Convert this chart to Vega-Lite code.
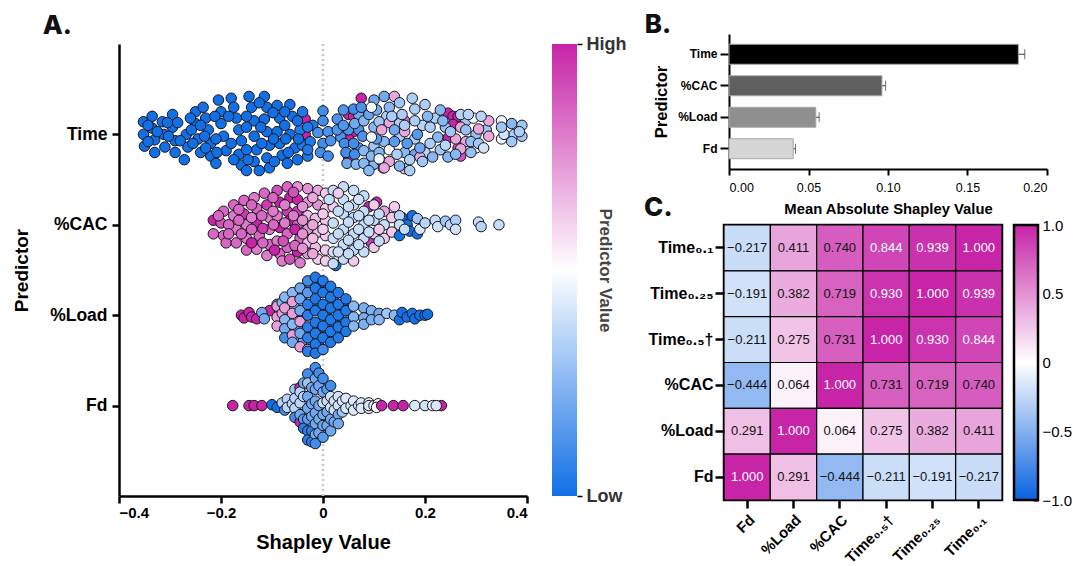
{"$schema":"https://vega.github.io/schema/vega-lite/v6.json","background":"white","padding":{"left":12,"top":12,"right":0,"bottom":0},"config":{"view":{"stroke":null},"font":"Liberation Sans","title":{"font":"Inter","fontWeight":800,"fontSize":26,"anchor":"start","color":"#111"},"axis":{"grid":false,"domainColor":"#000","tickColor":"#000","labelColor":"#000","titleColor":"#000","labelFont":"Liberation Sans","titleFont":"Liberation Sans"}},
"spacing":16,
"hconcat":[{"spacing":22,"hconcat":[
{"width":408,"height":462,"title":{"text":"A.","dx":30,"dy":5,"offset":0},
"layer":[
{"data":{"values":[{"z":0,"a":0,"b":5}]},"mark":{"type":"rule","color":"#c8c8c8","strokeWidth":2.5,"strokeDash":[2,3]},"encoding":{"x":{"field":"z","type":"quantitative","scale":{"domain":[-0.4,0.4]}},"y":{"field":"a","type":"quantitative","scale":{"domain":[0,5],"range":[462,10]}},"y2":{"field":"b"}}},
{"data":{"values":[
{"x":-0.352,"y":4.14,"c":0},{"x":-0.352,"y":4.0,"c":0},{"x":-0.35,"y":3.87,"c":0},{"x":-0.335,"y":4.2,"c":0},{"x":-0.335,"y":4.07,"c":0},{"x":-0.33,"y":3.94,"c":0},{"x":-0.33,"y":3.8,"c":0},{"x":-0.315,"y":4.14,"c":0},{"x":-0.312,"y":4.0,"c":0},{"x":-0.31,"y":3.86,"c":0},{"x":-0.295,"y":4.22,"c":0},{"x":-0.295,"y":4.08,"c":0},{"x":-0.29,"y":3.93,"c":0},{"x":-0.29,"y":3.8,"c":0},{"x":-0.272,"y":3.72,"c":0},{"x":-0.268,"y":4.0,"c":0},{"x":-0.265,"y":3.86,"c":0},{"x":-0.25,"y":4.25,"c":0},{"x":-0.25,"y":4.12,"c":0},{"x":-0.245,"y":3.95,"c":0},{"x":-0.24,"y":3.8,"c":0},{"x":-0.235,"y":4.3,"c":0},{"x":-0.23,"y":4.18,"c":0},{"x":-0.225,"y":4.05,"c":0},{"x":-0.22,"y":3.9,"c":0},{"x":-0.22,"y":3.76,"c":0},{"x":-0.21,"y":3.68,"c":0},{"x":-0.205,"y":4.38,"c":0},{"x":-0.2,"y":4.25,"c":0},{"x":-0.2,"y":4.12,"c":0},{"x":-0.195,"y":3.98,"c":0},{"x":-0.19,"y":3.82,"c":0},{"x":-0.18,"y":4.4,"c":0},{"x":-0.175,"y":4.3,"c":0},{"x":-0.17,"y":4.18,"c":0},{"x":-0.165,"y":4.05,"c":0},{"x":-0.16,"y":3.93,"c":0},{"x":-0.165,"y":3.78,"c":0},{"x":-0.16,"y":3.66,"c":0},{"x":-0.15,"y":3.6,"c":0},{"x":-0.145,"y":4.42,"c":0},{"x":-0.14,"y":4.3,"c":0},{"x":-0.135,"y":4.15,"c":0},{"x":-0.135,"y":3.98,"c":0},{"x":-0.13,"y":3.83,"c":0},{"x":-0.135,"y":3.7,"c":0},{"x":-0.125,"y":3.6,"c":0},{"x":-0.115,"y":4.42,"c":0},{"x":-0.11,"y":4.3,"c":0},{"x":-0.115,"y":4.17,"c":0},{"x":-0.11,"y":4.03,"c":0},{"x":-0.105,"y":3.88,"c":0},{"x":-0.11,"y":3.74,"c":0},{"x":-0.105,"y":3.63,"c":0},{"x":-0.09,"y":4.32,"c":0},{"x":-0.085,"y":4.18,"c":0},{"x":-0.09,"y":4.03,"c":0},{"x":-0.085,"y":3.9,"c":0},{"x":-0.08,"y":3.77,"c":0},{"x":-0.07,"y":3.68,"c":0},{"x":-0.065,"y":4.33,"c":0},{"x":-0.06,"y":4.2,"c":0},{"x":-0.065,"y":4.0,"c":0},{"x":-0.055,"y":3.85,"c":0},{"x":-0.05,"y":3.72,"c":0},{"x":-0.035,"y":4.17,"c":1},{"x":-0.035,"y":4.0,"c":1},{"x":-0.04,"y":4.25,"c":0.03},{"x":-0.045,"y":4.05,"c":0.03},{"x":-0.04,"y":3.88,"c":0.03},{"x":-0.03,"y":3.76,"c":0.03},{"x":-0.02,"y":4.1,"c":0.03},{"x":-0.025,"y":3.92,"c":0.03},{"x":0.0,"y":4.26,"c":0.1},{"x":0.0,"y":4.15,"c":0.1},{"x":-0.01,"y":4.02,"c":0.12},{"x":0.01,"y":4.03,"c":0.12},{"x":0.0,"y":3.9,"c":0.1},{"x":-0.005,"y":3.8,"c":0.1},{"x":0.01,"y":3.76,"c":0.1},{"x":0.015,"y":3.93,"c":0.12},
{"x":-0.343,"y":4.1,"c":0},{"x":-0.343,"y":3.92,"c":0},{"x":-0.325,"y":4.03,"c":0},{"x":-0.305,"y":4.13,"c":0},{"x":-0.303,"y":3.98,"c":0},{"x":-0.285,"y":4.13,"c":0},{"x":-0.28,"y":3.93,"c":0},{"x":-0.26,"y":4.18,"c":0},{"x":-0.258,"y":4.05,"c":0},{"x":-0.255,"y":3.9,"c":0},{"x":-0.24,"y":4.1,"c":0},{"x":-0.232,"y":3.98,"c":0},{"x":-0.23,"y":3.85,"c":0},{"x":-0.212,"y":4.2,"c":0},{"x":-0.21,"y":3.95,"c":0},{"x":-0.208,"y":3.8,"c":0},{"x":-0.185,"y":4.2,"c":0},{"x":-0.18,"y":3.9,"c":0},{"x":-0.175,"y":3.72,"c":0},{"x":-0.15,"y":4.2,"c":0},{"x":-0.15,"y":4.08,"c":0},{"x":-0.15,"y":3.83,"c":0},{"x":-0.147,"y":3.72,"c":0},{"x":-0.125,"y":4.35,"c":0},{"x":-0.122,"y":4.08,"c":0},{"x":-0.12,"y":3.9,"c":0},{"x":-0.098,"y":4.24,"c":0},{"x":-0.097,"y":3.95,"c":0},{"x":-0.095,"y":3.7,"c":0},{"x":-0.075,"y":4.25,"c":0},{"x":-0.075,"y":4.1,"c":0},{"x":-0.073,"y":3.95,"c":0},{"x":-0.068,"y":3.8,"c":0},{"x":-0.05,"y":4.15,"c":0},{"x":-0.048,"y":3.95,"c":0},{"x":-0.03,"y":4.08,"c":0.03},{"x":-0.03,"y":3.83,"c":0.03},
{"x":0.05,"y":4.22,"c":1},{"x":0.06,"y":4.2,"c":1},{"x":0.06,"y":4.03,"c":1},{"x":0.05,"y":3.95,"c":1},{"x":0.05,"y":3.75,"c":1},{"x":0.075,"y":4.4,"c":1},{"x":0.245,"y":4.235,"c":1},{"x":0.255,"y":4.2,"c":1},{"x":0.265,"y":4.2,"c":1},{"x":0.255,"y":4.11,"c":1},{"x":0.245,"y":3.96,"c":1},{"x":0.265,"y":3.85,"c":0.9},{"x":0.27,"y":3.76,"c":0.9},{"x":0.118,"y":3.63,"c":0.9},{"x":0.16,"y":4.15,"c":0.85},
{"x":0.035,"y":3.97,"c":0.13},{"x":0.05,"y":4.05,"c":0.13},{"x":0.07,"y":4.05,"c":0.12},{"x":0.07,"y":4.22,"c":0.2},{"x":0.07,"y":3.85,"c":0.12},{"x":0.1,"y":4.08,"c":0.25},{"x":0.1,"y":3.87,"c":0.3},{"x":0.1,"y":3.67,"c":0.25},{"x":0.12,"y":3.92,"c":0.25},{"x":0.125,"y":4.2,"c":0.33},{"x":0.15,"y":3.98,"c":0.33},{"x":0.15,"y":4.12,"c":0.33},{"x":0.16,"y":3.8,"c":0.25},{"x":0.18,"y":3.95,"c":0.33},{"x":0.18,"y":3.78,"c":0.18},{"x":0.195,"y":4.1,"c":0.35},{"x":0.2,"y":3.8,"c":0.35},{"x":0.22,"y":4.18,"c":0.33},{"x":0.225,"y":3.97,"c":0.25},{"x":0.23,"y":3.83,"c":0.3},{"x":0.24,"y":4.08,"c":0.28},{"x":0.28,"y":3.92,"c":0.7},{"x":0.3,"y":4.0,"c":0.28},{"x":0.32,"y":4.05,"c":0.3},{"x":0.28,"y":4.15,"c":0.3},
{"x":0.028,"y":4.17,"c":0.13},{"x":0.028,"y":4.05,"c":0.13},{"x":0.04,"y":4.27,"c":0.13},{"x":0.04,"y":4.1,"c":0.13},{"x":0.042,"y":3.9,"c":0.1},{"x":0.045,"y":3.8,"c":0.1},{"x":0.047,"y":3.68,"c":0.2},{"x":0.06,"y":4.28,"c":0.1},{"x":0.062,"y":4.12,"c":0.2},{"x":0.06,"y":3.9,"c":0.1},{"x":0.062,"y":3.78,"c":0.1},{"x":0.065,"y":3.67,"c":0.25},{"x":0.075,"y":4.3,"c":0.12},{"x":0.08,"y":4.15,"c":0.25},{"x":0.078,"y":3.98,"c":0.12},{"x":0.08,"y":3.82,"c":0.25},{"x":0.08,"y":3.68,"c":0.25},{"x":0.09,"y":4.22,"c":0.18},{"x":0.095,"y":3.76,"c":0.25},{"x":0.09,"y":3.6,"c":0.25},{"x":0.1,"y":4.38,"c":0.2},{"x":0.105,"y":4.27,"c":0.2},{"x":0.11,"y":4.14,"c":0.3},{"x":0.105,"y":3.95,"c":0.15},{"x":0.11,"y":3.8,"c":0.25},{"x":0.115,"y":3.7,"c":0.15},{"x":0.12,"y":4.42,"c":0.2},{"x":0.13,"y":4.3,"c":0.25},
{"x":0.095,"y":4.3,"c":0.48},{"x":0.095,"y":3.97,"c":0.48},{"x":0.115,"y":4.05,"c":0.7},{"x":0.13,"y":4.13,"c":0.7},{"x":0.13,"y":3.7,"c":0.7},{"x":0.12,"y":3.63,"c":0.7},{"x":0.14,"y":4.42,"c":0.7},{"x":0.16,"y":4.03,"c":0.7},{"x":0.19,"y":3.75,"c":0.7},{"x":0.27,"y":4.08,"c":0.7},{"x":0.26,"y":3.95,"c":0.7},{"x":0.27,"y":3.84,"c":0.7},{"x":0.325,"y":4.15,"c":0.7},{"x":0.325,"y":3.98,"c":0.7},{"x":0.305,"y":4.06,"c":0.7},{"x":0.16,"y":3.62,"c":0.65},{"x":0.13,"y":3.83,"c":0.48},{"x":0.11,"y":3.73,"c":0.48},{"x":0.295,"y":4.18,"c":0.48},{"x":0.3,"y":3.85,"c":0.48},{"x":0.35,"y":4.15,"c":0.48},{"x":0.35,"y":3.95,"c":0.48},
{"x":0.135,"y":4.2,"c":0.33},{"x":0.14,"y":4.05,"c":0.2},{"x":0.14,"y":3.92,"c":0.15},{"x":0.145,"y":3.78,"c":0.33},{"x":0.15,"y":3.65,"c":0.25},{"x":0.15,"y":4.35,"c":0.3},{"x":0.155,"y":4.22,"c":0.33},{"x":0.16,"y":4.1,"c":0.33},{"x":0.165,"y":3.9,"c":0.15},{"x":0.17,"y":3.72,"c":0.33},{"x":0.17,"y":3.6,"c":0.33},{"x":0.175,"y":4.4,"c":0.33},{"x":0.18,"y":4.28,"c":0.33},{"x":0.18,"y":4.15,"c":0.33},{"x":0.185,"y":4.0,"c":0.15},{"x":0.19,"y":3.85,"c":0.2},{"x":0.195,"y":3.7,"c":0.3},{"x":0.2,"y":4.33,"c":0.33},{"x":0.205,"y":4.2,"c":0.25},{"x":0.21,"y":4.08,"c":0.33},{"x":0.21,"y":3.9,"c":0.33},{"x":0.215,"y":3.75,"c":0.25},{"x":0.23,"y":4.27,"c":0.25},{"x":0.235,"y":4.15,"c":0.25},{"x":0.24,"y":3.88,"c":0.35},{"x":0.245,"y":3.75,"c":0.25},{"x":0.25,"y":4.03,"c":0.3},{"x":0.26,"y":3.78,"c":0.25},{"x":0.27,"y":4.22,"c":0.35},{"x":0.28,"y":4.05,"c":0.28},{"x":0.285,"y":4.22,"c":0.35},{"x":0.29,"y":3.92,"c":0.28},{"x":0.29,"y":3.8,"c":0.28},{"x":0.305,"y":3.9,"c":0.3},{"x":0.31,"y":4.2,"c":0.35},{"x":0.315,"y":3.85,"c":0.4},{"x":0.355,"y":4.0,"c":0.4},{"x":0.35,"y":4.08,"c":0.3},{"x":0.37,"y":4.12,"c":0.25},{"x":0.375,"y":4.0,"c":0.33},{"x":0.37,"y":3.92,"c":0.3},{"x":0.39,"y":4.1,"c":0.3},{"x":0.39,"y":3.98,"c":0.3},{"x":0.385,"y":4.03,"c":0.33},
{"x":-0.215,"y":3.05,"c":1},{"x":-0.215,"y":2.9,"c":0.85},{"x":-0.195,"y":3.15,"c":0.85},{"x":-0.2,"y":3.02,"c":0.9},{"x":-0.195,"y":2.88,"c":0.85},{"x":-0.19,"y":2.8,"c":0.85},{"x":-0.175,"y":3.22,"c":0.85},{"x":-0.175,"y":3.1,"c":0.8},{"x":-0.17,"y":2.95,"c":0.8},{"x":-0.17,"y":2.8,"c":0.85},{"x":-0.155,"y":3.27,"c":0.85},{"x":-0.155,"y":3.12,"c":0.95},{"x":-0.15,"y":3.0,"c":0.8},{"x":-0.15,"y":2.85,"c":0.8},{"x":-0.15,"y":2.72,"c":0.85},{"x":-0.135,"y":3.3,"c":0.8},{"x":-0.13,"y":3.18,"c":0.85},{"x":-0.13,"y":3.02,"c":1},{"x":-0.125,"y":2.88,"c":0.85},{"x":-0.13,"y":2.73,"c":0.8},{"x":-0.115,"y":3.35,"c":0.85},{"x":-0.11,"y":3.22,"c":0.95},{"x":-0.105,"y":3.08,"c":0.8},{"x":-0.105,"y":2.95,"c":0.8},{"x":-0.105,"y":2.78,"c":0.85},{"x":-0.11,"y":2.66,"c":0.8},{"x":-0.09,"y":3.38,"c":0.9},{"x":-0.085,"y":3.25,"c":1},{"x":-0.09,"y":3.1,"c":0.8},{"x":-0.085,"y":2.97,"c":1},{"x":-0.09,"y":2.82,"c":0.8},{"x":-0.085,"y":2.68,"c":0.85},{"x":-0.08,"y":2.6,"c":0.8},{"x":-0.07,"y":3.42,"c":0.85},{"x":-0.065,"y":3.3,"c":1},{"x":-0.07,"y":3.15,"c":0.95},{"x":-0.065,"y":3.05,"c":1},{"x":-0.07,"y":2.9,"c":0.85},{"x":-0.07,"y":2.75,"c":0.85},{"x":-0.065,"y":2.62,"c":0.9},{"x":-0.05,"y":3.42,"c":0.75},{"x":-0.05,"y":3.28,"c":1},{"x":-0.05,"y":3.15,"c":0.95},{"x":-0.05,"y":3.0,"c":0.85},{"x":-0.045,"y":2.85,"c":0.85},{"x":-0.05,"y":2.7,"c":1},{"x":-0.045,"y":2.58,"c":0.8},{"x":-0.03,"y":3.4,"c":0.75},{"x":-0.03,"y":3.25,"c":0.75},{"x":-0.03,"y":3.1,"c":0.65},{"x":-0.03,"y":2.95,"c":0.75},{"x":-0.03,"y":2.8,"c":0.65},{"x":-0.03,"y":2.68,"c":0.75},{"x":-0.01,"y":3.38,"c":0.7},{"x":-0.01,"y":3.22,"c":0.75},{"x":-0.015,"y":3.07,"c":0.65},{"x":-0.01,"y":2.92,"c":0.65},{"x":-0.015,"y":2.75,"c":0.65},{"x":-0.01,"y":2.62,"c":0.62},{"x":0.005,"y":3.35,"c":0.62},{"x":0.005,"y":3.18,"c":0.62},{"x":0.005,"y":3.05,"c":0.62},{"x":0.005,"y":2.88,"c":0.62},{"x":0.005,"y":2.72,"c":0.62},{"x":0.005,"y":2.6,"c":0.62},
{"x":-0.205,"y":3.1,"c":0.85},{"x":-0.185,"y":3.0,"c":0.85},{"x":-0.185,"y":2.9,"c":0.85},{"x":-0.165,"y":3.05,"c":0.85},{"x":-0.165,"y":3.17,"c":0.85},{"x":-0.16,"y":2.9,"c":0.85},{"x":-0.14,"y":3.22,"c":0.85},{"x":-0.14,"y":3.08,"c":0.8},{"x":-0.14,"y":2.95,"c":0.85},{"x":-0.14,"y":2.8,"c":1},{"x":-0.12,"y":3.1,"c":0.85},{"x":-0.118,"y":2.96,"c":0.95},{"x":-0.118,"y":2.8,"c":0.85},{"x":-0.098,"y":3.3,"c":0.85},{"x":-0.098,"y":3.15,"c":0.8},{"x":-0.097,"y":3.0,"c":0.85},{"x":-0.095,"y":2.72,"c":1},{"x":-0.075,"y":3.22,"c":0.8},{"x":-0.075,"y":3.02,"c":0.8},{"x":-0.078,"y":2.82,"c":0.9},{"x":-0.058,"y":3.36,"c":0.9},{"x":-0.058,"y":3.1,"c":0.8},{"x":-0.055,"y":2.95,"c":1},{"x":-0.055,"y":2.77,"c":0.85},{"x":-0.04,"y":3.2,"c":0.75},{"x":-0.04,"y":3.05,"c":0.75},{"x":-0.04,"y":2.9,"c":0.75},{"x":-0.04,"y":2.74,"c":0.75},{"x":-0.02,"y":3.3,"c":0.7},{"x":-0.02,"y":3.0,"c":0.7},{"x":-0.02,"y":2.85,"c":0.65},{"x":-0.02,"y":2.68,"c":0.7},{"x":0.0,"y":3.12,"c":0.62},{"x":0.0,"y":2.95,"c":0.62},
{"x":0.09,"y":3.2,"c":1},{"x":0.105,"y":3.25,"c":1},{"x":0.095,"y":2.8,"c":0.95},{"x":0.025,"y":2.55,"c":0},{"x":0.02,"y":3.38,"c":0.38},{"x":0.02,"y":3.2,"c":0.62},{"x":0.02,"y":3.02,"c":0.38},{"x":0.02,"y":2.85,"c":0.38},{"x":0.02,"y":2.7,"c":0.4},{"x":0.02,"y":2.57,"c":0.38},{"x":0.04,"y":3.42,"c":0.38},{"x":0.04,"y":3.28,"c":0.38},{"x":0.04,"y":3.12,"c":0.38},{"x":0.04,"y":2.95,"c":0.38},{"x":0.04,"y":2.78,"c":0.38},{"x":0.04,"y":2.62,"c":0.38},{"x":0.06,"y":3.38,"c":0.38},{"x":0.06,"y":3.22,"c":0.38},{"x":0.06,"y":3.08,"c":0.38},{"x":0.06,"y":2.9,"c":0.38},{"x":0.06,"y":2.72,"c":0.38},{"x":0.06,"y":2.6,"c":0.62},{"x":0.08,"y":3.32,"c":0.38},{"x":0.08,"y":3.15,"c":0.38},{"x":0.08,"y":3.0,"c":0.38},{"x":0.08,"y":2.85,"c":0.38},{"x":0.08,"y":2.7,"c":0.38},{"x":0.1,"y":3.22,"c":0.62},{"x":0.1,"y":3.05,"c":0.38},{"x":0.1,"y":2.9,"c":0.62},{"x":0.1,"y":2.75,"c":0.62},{"x":0.12,"y":3.15,"c":0.7},{"x":0.12,"y":3.0,"c":0.38},{"x":0.12,"y":2.85,"c":0.62},{"x":0.012,"y":3.28,"c":0.38},{"x":0.03,"y":3.35,"c":0.62},{"x":0.03,"y":3.15,"c":0.38},{"x":0.03,"y":2.9,"c":0.38},{"x":0.03,"y":2.7,"c":0.4},{"x":0.05,"y":3.2,"c":0.38},{"x":0.05,"y":3.03,"c":0.38},{"x":0.05,"y":2.83,"c":0.38},{"x":0.05,"y":2.68,"c":0.38},{"x":0.07,"y":3.28,"c":0.4},{"x":0.07,"y":3.1,"c":0.38},{"x":0.07,"y":2.95,"c":0.38},{"x":0.07,"y":2.78,"c":0.38},{"x":0.09,"y":3.05,"c":0.38},{"x":0.09,"y":2.92,"c":0.38},{"x":0.11,"y":3.12,"c":0.38},{"x":0.11,"y":2.95,"c":0.62},{"x":0.11,"y":2.82,"c":0.38},{"x":0.135,"y":3.08,"c":0.62},{"x":0.135,"y":2.92,"c":0.62},{"x":0.14,"y":3.2,"c":0.62},{"x":0.155,"y":3.08,"c":0},{"x":0.165,"y":3.0,"c":0},{"x":0.17,"y":2.93,"c":0},{"x":0.15,"y":2.88,"c":0},{"x":0.175,"y":3.1,"c":0},{"x":0.185,"y":2.9,"c":0},{"x":0.15,"y":3.1,"c":0.35},{"x":0.15,"y":3.0,"c":0.38},{"x":0.16,"y":2.95,"c":0.38},{"x":0.185,"y":3.07,"c":0.3},{"x":0.19,"y":2.95,"c":0.42},{"x":0.2,"y":3.02,"c":0.35},{"x":0.22,"y":3.05,"c":0.38},{"x":0.225,"y":2.98,"c":0.4},{"x":0.24,"y":3.04,"c":0.3},{"x":0.25,"y":3.0,"c":0.35},{"x":0.26,"y":3.05,"c":0.33},{"x":0.26,"y":2.95,"c":0.4},{"x":0.305,"y":3.03,"c":0.38},{"x":0.31,"y":2.98,"c":0.35},{"x":0.345,"y":3.0,"c":0.38},
{"x":-0.16,"y":2.0,"c":1},{"x":-0.155,"y":1.97,"c":1},{"x":-0.145,"y":2.03,"c":1},{"x":-0.14,"y":1.98,"c":1},{"x":-0.13,"y":1.96,"c":1},{"x":-0.105,"y":2.05,"c":1},{"x":-0.12,"y":2.03,"c":0.2},{"x":-0.115,"y":1.96,"c":0.2},{"x":-0.09,"y":2.12,"c":0.2},{"x":-0.09,"y":2.1,"c":0.72},{"x":-0.09,"y":1.98,"c":0.72},{"x":-0.09,"y":1.88,"c":0.72},{"x":-0.08,"y":2.14,"c":0.25},{"x":-0.08,"y":2.02,"c":0.72},{"x":-0.07,"y":1.9,"c":0.2},{"x":-0.07,"y":1.8,"c":0.72},{"x":-0.075,"y":2.2,"c":0.25},{"x":-0.075,"y":2.08,"c":0.72},{"x":-0.075,"y":1.95,"c":0.25},{"x":-0.075,"y":1.85,"c":0.2},{"x":-0.075,"y":1.75,"c":0.1},{"x":-0.055,"y":2.08,"c":0.25},{"x":-0.05,"y":1.85,"c":0.15},{"x":-0.05,"y":1.72,"c":0.2},{"x":-0.06,"y":2.25,"c":0.25},{"x":-0.06,"y":2.15,"c":0.72},{"x":-0.06,"y":2.02,"c":0.72},{"x":-0.06,"y":1.9,"c":0.25},{"x":-0.06,"y":1.78,"c":0.72},{"x":-0.06,"y":1.7,"c":0.2},{"x":-0.04,"y":2.22,"c":0.15},{"x":-0.04,"y":1.98,"c":0.72},{"x":-0.038,"y":1.72,"c":0.2},{"x":-0.045,"y":2.3,"c":0.2},{"x":-0.045,"y":2.18,"c":0.2},{"x":-0.045,"y":2.05,"c":0.2},{"x":-0.045,"y":1.93,"c":0.72},{"x":-0.045,"y":1.8,"c":0.2},{"x":-0.045,"y":1.65,"c":0.72},{"x":-0.025,"y":2.3,"c":0.15},{"x":-0.022,"y":2.05,"c":0.05},{"x":-0.022,"y":1.82,"c":0.05},{"x":-0.022,"y":1.68,"c":0.2},{"x":-0.03,"y":2.38,"c":0.1},{"x":-0.03,"y":2.25,"c":0.15},{"x":-0.03,"y":2.12,"c":0.05},{"x":-0.03,"y":2.0,"c":0.05},{"x":-0.03,"y":1.87,"c":0.05},{"x":-0.03,"y":1.75,"c":0.05},{"x":-0.03,"y":1.62,"c":0.72},{"x":-0.03,"y":1.6,"c":0.05},{"x":0.038,"y":1.98,"c":0.15},{"x":0.05,"y":2.0,"c":0.2},{"x":-0.008,"y":2.32,"c":0.03},{"x":-0.008,"y":2.1,"c":0.03},{"x":-0.008,"y":1.86,"c":0.03},{"x":-0.008,"y":1.66,"c":0.03},{"x":0.008,"y":2.28,"c":0.03},{"x":0.008,"y":2.05,"c":0.03},{"x":0.008,"y":1.78,"c":0.03},{"x":0.022,"y":2.15,"c":0.03},{"x":0.022,"y":1.9,"c":0.03},{"x":0.038,"y":2.1,"c":0.03},{"x":0.038,"y":1.85,"c":0.03},{"x":-0.015,"y":2.42,"c":0.03},{"x":-0.015,"y":2.3,"c":0.03},{"x":-0.015,"y":2.18,"c":0.03},{"x":-0.015,"y":2.05,"c":0.03},{"x":-0.015,"y":1.92,"c":0.03},{"x":-0.015,"y":1.8,"c":0.03},{"x":-0.015,"y":1.68,"c":0.03},{"x":-0.015,"y":1.58,"c":0.03},{"x":0.0,"y":2.38,"c":0.03},{"x":0.0,"y":2.25,"c":0.03},{"x":0.0,"y":2.12,"c":0.03},{"x":0.0,"y":2.0,"c":0.03},{"x":0.0,"y":1.88,"c":0.03},{"x":0.0,"y":1.75,"c":0.03},{"x":0.0,"y":1.62,"c":0.1},{"x":0.015,"y":2.32,"c":0.03},{"x":0.015,"y":2.2,"c":0.03},{"x":0.015,"y":2.08,"c":0.03},{"x":0.015,"y":1.95,"c":0.03},{"x":0.015,"y":1.82,"c":0.03},{"x":0.015,"y":1.7,"c":0.03},{"x":0.03,"y":2.25,"c":0.03},{"x":0.03,"y":2.12,"c":0.03},{"x":0.03,"y":2.0,"c":0.03},{"x":0.03,"y":1.87,"c":0.03},{"x":0.03,"y":1.75,"c":0.03},{"x":0.045,"y":2.18,"c":0.03},{"x":0.045,"y":2.05,"c":0.03},{"x":0.045,"y":1.92,"c":0.03},{"x":0.045,"y":1.82,"c":0.03},{"x":0.06,"y":2.1,"c":0.25},{"x":0.06,"y":1.98,"c":0.25},{"x":0.06,"y":1.88,"c":0.25},{"x":0.08,"y":2.08,"c":0.22},{"x":0.08,"y":1.97,"c":0.22},{"x":0.08,"y":1.9,"c":0.22},{"x":0.095,"y":2.05,"c":0.22},{"x":0.095,"y":1.95,"c":0.22},{"x":0.11,"y":2.02,"c":0.2},{"x":0.11,"y":1.95,"c":0.25},{"x":0.125,"y":2.02,"c":0.3},{"x":0.14,"y":2.0,"c":0.25},{"x":0.15,"y":1.95,"c":0},{"x":0.155,"y":2.03,"c":0},{"x":0.165,"y":1.98,"c":0},{"x":0.175,"y":2.02,"c":0},{"x":0.18,"y":1.96,"c":0},{"x":0.19,"y":2.0,"c":0},{"x":0.2,"y":2.0,"c":0},{"x":0.205,"y":2.01,"c":0},
{"x":-0.177,"y":1.0,"c":1},{"x":-0.145,"y":1.0,"c":1},{"x":-0.135,"y":1.0,"c":1},{"x":-0.12,"y":1.0,"c":1},{"x":-0.1,"y":1.01,"c":0},{"x":-0.09,"y":0.98,"c":0},{"x":-0.08,"y":1.03,"c":0.35},{"x":-0.075,"y":0.95,"c":0.1},{"x":-0.07,"y":1.07,"c":0.35},{"x":-0.07,"y":0.98,"c":0.35},{"x":-0.06,"y":1.02,"c":0.35},{"x":-0.05,"y":0.92,"c":0.1},{"x":-0.055,"y":1.18,"c":0.3},{"x":-0.055,"y":1.08,"c":0.35},{"x":-0.055,"y":0.97,"c":0.35},{"x":-0.055,"y":0.87,"c":0.1},{"x":-0.045,"y":1.2,"c":1},{"x":-0.045,"y":0.82,"c":1},{"x":-0.045,"y":1.15,"c":0.35},{"x":-0.045,"y":1.03,"c":0.35},{"x":-0.045,"y":0.9,"c":0.2},{"x":-0.038,"y":1.25,"c":0.2},{"x":-0.038,"y":1.1,"c":0.35},{"x":-0.038,"y":0.85,"c":0.15},{"x":-0.038,"y":0.75,"c":0.05},{"x":-0.03,"y":1.35,"c":0.1},{"x":-0.03,"y":1.25,"c":0.3},{"x":-0.03,"y":1.1,"c":0.2},{"x":-0.03,"y":0.97,"c":0.2},{"x":-0.03,"y":0.85,"c":0.15},{"x":-0.03,"y":0.72,"c":0.05},{"x":-0.03,"y":0.62,"c":0.05},{"x":-0.022,"y":1.2,"c":0.2},{"x":-0.022,"y":1.02,"c":0.2},{"x":-0.022,"y":0.88,"c":0.2},{"x":-0.022,"y":0.72,"c":0.05},{"x":-0.022,"y":0.6,"c":0.05},{"x":-0.015,"y":1.42,"c":0.1},{"x":-0.015,"y":1.3,"c":0.2},{"x":-0.015,"y":1.18,"c":0.2},{"x":-0.015,"y":1.05,"c":0.2},{"x":-0.015,"y":0.92,"c":0.2},{"x":-0.015,"y":0.8,"c":0.2},{"x":-0.015,"y":0.68,"c":0.2},{"x":-0.015,"y":0.58,"c":0.1},{"x":-0.008,"y":1.36,"c":0.1},{"x":-0.008,"y":1.22,"c":0.2},{"x":-0.008,"y":1.0,"c":0.2},{"x":-0.008,"y":0.85,"c":0.2},{"x":-0.008,"y":0.7,"c":0.2},{"x":0.0,"y":1.3,"c":0.1},{"x":0.0,"y":1.15,"c":0.2},{"x":0.0,"y":1.03,"c":0.38},{"x":0.0,"y":0.9,"c":0.2},{"x":0.0,"y":0.78,"c":0.2},{"x":0.0,"y":0.65,"c":0.15},{"x":0.008,"y":1.18,"c":0.15},{"x":0.008,"y":1.05,"c":0.38},{"x":0.008,"y":0.93,"c":0.2},{"x":0.008,"y":0.78,"c":0.2},{"x":0.015,"y":1.22,"c":0.1},{"x":0.015,"y":1.1,"c":0.4},{"x":0.015,"y":0.98,"c":0.4},{"x":0.015,"y":0.85,"c":0.2},{"x":0.015,"y":0.72,"c":0.2},{"x":0.022,"y":1.05,"c":0.4},{"x":0.022,"y":0.95,"c":0.4},{"x":0.022,"y":0.82,"c":0.2},{"x":0.03,"y":1.1,"c":0.4},{"x":0.03,"y":1.0,"c":0.4},{"x":0.03,"y":0.9,"c":0.2},{"x":0.03,"y":0.8,"c":0.2},{"x":0.038,"y":1.05,"c":0.42},{"x":0.038,"y":0.93,"c":0.3},{"x":0.045,"y":1.08,"c":0.42},{"x":0.045,"y":0.97,"c":0.42},{"x":0.055,"y":1.0,"c":0.42},{"x":0.06,"y":1.05,"c":0.42},{"x":0.06,"y":0.95,"c":0.42},{"x":0.07,"y":1.0,"c":0.42},{"x":0.075,"y":1.03,"c":0.42},{"x":0.075,"y":0.97,"c":0.42},{"x":0.09,"y":1.03,"c":0.45},{"x":0.09,"y":0.97,"c":0.45},{"x":0.09,"y":1.0,"c":0.42},{"x":0.1,"y":1.0,"c":0.48},{"x":0.108,"y":1.02,"c":0.48},{"x":0.105,"y":0.98,"c":0.48},{"x":0.115,"y":1.0,"c":1},{"x":0.138,"y":1.0,"c":1},{"x":0.157,"y":1.0,"c":1},{"x":0.232,"y":1.0,"c":1},{"x":0.18,"y":1.0,"c":0.42},{"x":0.2,"y":1.0,"c":0.4},{"x":0.215,"y":1.0,"c":0.45},{"x":0.222,"y":1.0,"c":0.42}
]},"mark":{"type":"point","filled":true,"size":110,"opacity":1,"stroke":"#16161e","strokeWidth":1},
"encoding":{
"x":{"field":"x","type":"quantitative","scale":{"domain":[-0.4,0.4]},"axis":{"values":[-0.4,-0.2,0,0.2,0.4],"labelExpr":"datum.value==0?'0':format(datum.value,'.1f')","title":"Shapley Value","labelFontSize":15,"labelFontWeight":"bold","titleFontSize":20,"titleFontWeight":"bold","domainWidth":2.5,"tickWidth":2.5,"tickSize":7,"labelPadding":2,"titlePadding":12}},
"y":{"field":"y","type":"quantitative","scale":{"domain":[0,5],"range":[462,10]},"axis":{"values":[1,2,3,4],"labelExpr":"datum.value==4?'Time':datum.value==3?'%CAC':datum.value==2?'%Load':'Fd'","title":"Predictor","labelFontSize":17.5,"labelFontWeight":"bold","titleFontSize":19,"titleFontWeight":"bold","domainWidth":2.5,"tickWidth":2.5,"tickSize":7,"labelPadding":5,"titlePadding":18}},
"color":{"field":"c","type":"quantitative","legend":null,"scale":{"domain":[0,0.5,1],"range":["#1170e6","#ffffff","#c724a8"],"interpolate":"rgb"}}}}
]},
{"width":25,"height":462,"data":{"values":[{"a":0,"b":1,"l":0,"r":1}]},"mark":{"type":"rect","fill":{"gradient":"linear","x1":0,"y1":1,"x2":0,"y2":0,"stops":[{"offset":0,"color":"#1170e6"},{"offset":0.5,"color":"#ffffff"},{"offset":1,"color":"#c724a8"}]}},
"encoding":{"x":{"field":"l","type":"quantitative","axis":null},"x2":{"field":"r"},"y":{"field":"a","type":"quantitative","scale":{"domain":[0,1],"range":[462,10]},"axis":{"values":[0,1],"labelExpr":"datum.value==1?'High':'Low'","title":"Predictor Value","titleAngle":90,"titleColor":"#444","titleFontSize":17,"titleFontWeight":"bold","labelFontSize":18,"labelFontWeight":"bold","labelColor":"#333","orient":"right","domain":false,"tickSize":5,"tickWidth":1.5,"labelPadding":4,"titlePadding":-30}},"y2":{"field":"b"}}}
],"resolve":{"scale":{"color":"independent","x":"independent","y":"independent"}}},
{"spacing":-23,"vconcat":[
{"width":323,"height":135,"title":{"text":"B.","dx":-9,"dy":4,"offset":0},"data":{"values":[{"p":"Time","m":0.182,"lo":0.178,"hi":0.186},{"p":"%CAC","m":0.0962,"lo":0.094,"hi":0.0985},{"p":"%Load","m":0.0546,"lo":0.0525,"hi":0.0567},{"p":"Fd","m":0.0404,"lo":0.039,"hi":0.0418}]},
"layer":[
{"mark":{"type":"rule","color":"#333","strokeWidth":1},"encoding":{"x":{"field":"lo","type":"quantitative"},"x2":{"field":"hi"},"y":{"field":"p","type":"nominal"}}},
{"mark":{"type":"tick","color":"#333","thickness":1,"size":10},"encoding":{"x":{"field":"hi","type":"quantitative"},"y":{"field":"p","type":"nominal"}}},
{"mark":{"type":"bar","stroke":"#a8a8a8","strokeWidth":1,"height":20},
"encoding":{"x":{"field":"m","type":"quantitative","scale":{"domain":[0,0.2],"range":[5,323]},"axis":{"values":[0,0.05,0.1,0.15,0.2],"format":".2f","title":"Mean Absolute Shapley Value","labelFontSize":12.5,"titleFontSize":14.8,"titleFontWeight":"bold","domainWidth":2,"tickWidth":2,"tickSize":6,"labelPadding":6,"titlePadding":8}},
"y":{"field":"p","type":"nominal","sort":["Time","%CAC","%Load","Fd"],"scale":{"domain":["Time","%CAC","%Load","Fd"],"paddingInner":0.35,"paddingOuter":0.318},"axis":{"offset":-5,"title":"Predictor","labelFontSize":12,"labelFontWeight":"bold","titleFontSize":16.5,"titleFontWeight":"bold","domainWidth":2,"tickWidth":2,"tickSize":9,"labelPadding":3,"titlePadding":8,"labelAngle":0}},
"color":{"field":"p","type":"nominal","legend":null,"scale":{"domain":["Time","%CAC","%Load","Fd"],"range":["#000000","#5f5f5f","#8f8f8f","#d6d6d6"]}}}}
]},
{"spacing":8,"hconcat":[
{"width":278,"height":275,"title":{"text":"C.","dx":-4,"offset":3},"view":{"stroke":"#000","strokeWidth":2.5},"data":{"values":[
{"a":"Fd","b":"Time₀.₁","r":-0.217},{"a":"%Load","b":"Time₀.₁","r":0.411},{"a":"%CAC","b":"Time₀.₁","r":0.74},{"a":"Time₀.₅†","b":"Time₀.₁","r":0.844},{"a":"Time₀.₂₅","b":"Time₀.₁","r":0.939},{"a":"Time₀.₁","b":"Time₀.₁","r":1},
{"a":"Fd","b":"Time₀.₂₅","r":-0.191},{"a":"%Load","b":"Time₀.₂₅","r":0.382},{"a":"%CAC","b":"Time₀.₂₅","r":0.719},{"a":"Time₀.₅†","b":"Time₀.₂₅","r":0.93},{"a":"Time₀.₂₅","b":"Time₀.₂₅","r":1},{"a":"Time₀.₁","b":"Time₀.₂₅","r":0.939},
{"a":"Fd","b":"Time₀.₅†","r":-0.211},{"a":"%Load","b":"Time₀.₅†","r":0.275},{"a":"%CAC","b":"Time₀.₅†","r":0.731},{"a":"Time₀.₅†","b":"Time₀.₅†","r":1},{"a":"Time₀.₂₅","b":"Time₀.₅†","r":0.93},{"a":"Time₀.₁","b":"Time₀.₅†","r":0.844},
{"a":"Fd","b":"%CAC","r":-0.444},{"a":"%Load","b":"%CAC","r":0.064},{"a":"%CAC","b":"%CAC","r":1},{"a":"Time₀.₅†","b":"%CAC","r":0.731},{"a":"Time₀.₂₅","b":"%CAC","r":0.719},{"a":"Time₀.₁","b":"%CAC","r":0.74},
{"a":"Fd","b":"%Load","r":0.291},{"a":"%Load","b":"%Load","r":1},{"a":"%CAC","b":"%Load","r":0.064},{"a":"Time₀.₅†","b":"%Load","r":0.275},{"a":"Time₀.₂₅","b":"%Load","r":0.382},{"a":"Time₀.₁","b":"%Load","r":0.411},
{"a":"Fd","b":"Fd","r":1},{"a":"%Load","b":"Fd","r":0.291},{"a":"%CAC","b":"Fd","r":-0.444},{"a":"Time₀.₅†","b":"Fd","r":-0.211},{"a":"Time₀.₂₅","b":"Fd","r":-0.191},{"a":"Time₀.₁","b":"Fd","r":-0.217}
]},
"encoding":{"x":{"field":"a","type":"nominal","sort":["Fd","%Load","%CAC","Time₀.₅†","Time₀.₂₅","Time₀.₁"],"axis":{"title":null,"labelAngle":-45,"labelFontSize":15,"labelFontWeight":"bold","domain":false,"tickWidth":2.5,"tickSize":8,"labelPadding":4}},
"y":{"field":"b","type":"nominal","sort":["Time₀.₁","Time₀.₂₅","Time₀.₅†","%CAC","%Load","Fd"],"axis":{"title":null,"labelFontSize":16,"labelFontWeight":"bold","domain":false,"tickWidth":2.5,"tickSize":9,"labelPadding":2}}},
"layer":[
{"mark":{"type":"rect","stroke":"#000","strokeWidth":1.2},"encoding":{"color":{"field":"r","type":"quantitative","legend":null,"scale":{"domain":[-1,0,1],"range":["#0a62e0","#ffffff","#c724a8"],"interpolate":"rgb"}}}},
{"mark":{"type":"text","fontSize":13},"encoding":{"text":{"field":"r","type":"quantitative","format":".3f"},"color":{"condition":{"test":"datum.r>=0.8","value":"#ffffff"},"value":"#111"}}}
],"resolve":{"scale":{"color":"independent"}}},
{"width":24,"height":275,"data":{"values":[{"a":-1,"b":1,"l":0,"r":1}]},
"layer":[
{"mark":{"type":"rect","fill":{"gradient":"linear","x1":0,"y1":1,"x2":0,"y2":0,"stops":[{"offset":0,"color":"#0a62e0"},{"offset":0.5,"color":"#ffffff"},{"offset":1,"color":"#c724a8"}]}},
"encoding":{"x":{"field":"l","type":"quantitative","axis":null},"x2":{"field":"r"},"y":{"field":"a","type":"quantitative","scale":{"domain":[-1,1]},"axis":{"orient":"right","values":[-1,-0.5,0,0.5,1],"labelExpr":"datum.value==0?'0':format(datum.value,'.1f')","title":null,"labelFontSize":15,"domain":false,"tickSize":-5,"tickWidth":2,"labelPadding":9}},"y2":{"field":"b"}}},
{"mark":{"type":"rect","fillOpacity":0,"stroke":"#000","strokeWidth":2.5},
"encoding":{"x":{"field":"l","type":"quantitative","axis":null},"x2":{"field":"r"},"y":{"field":"a","type":"quantitative","scale":{"domain":[-1,1]},"axis":{"orient":"left","values":[-0.5,0,0.5],"labels":false,"title":null,"domain":false,"tickSize":-5,"tickWidth":2}},"y2":{"field":"b"}}}
],"resolve":{"axis":{"y":"independent"}}}
],"resolve":{"scale":{"color":"independent"}}}
],"resolve":{"scale":{"color":"independent"}}}
],"resolve":{"scale":{"color":"independent"}}}
